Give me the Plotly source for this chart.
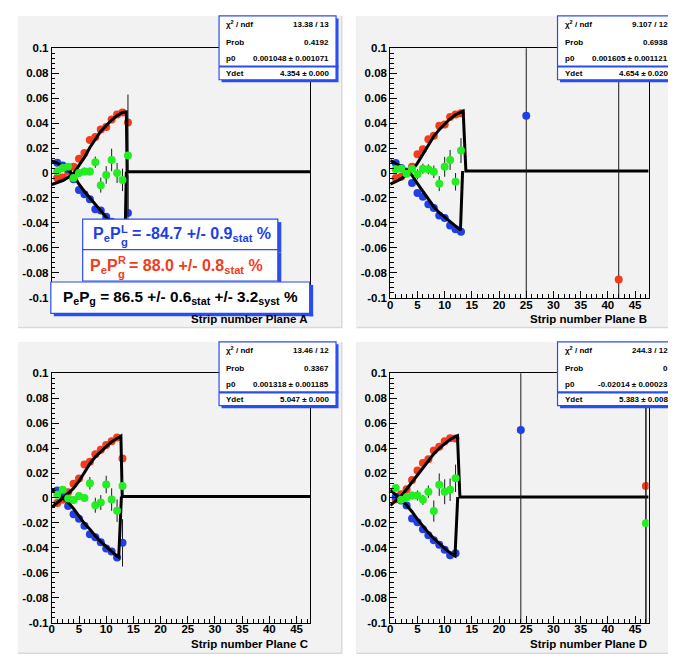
import plotly.graph_objects as go

W, H = 676, 664
OFF = 8  # the page body margin moves the figure; compensate
FW, FH = W - OFF, H - OFF
FONT = "Liberation Sans, Arial, Helvetica, sans-serif"

# ---------------- data ----------------
x_tickvals = [0, 5, 10, 15, 20, 25, 30, 35, 40, 45]
y_tickvals = [-0.1, -0.08, -0.06, -0.04, -0.02, 0, 0.02, 0.04, 0.06, 0.08, 0.1]
y_ticktext = ["-0.1", "-0.08", "-0.06", "-0.04", "-0.02", "0", "0.02", "0.04", "0.06", "0.08", "0.1"]
x_titles = ["Strip number Plane A", "Strip number Plane B", "Strip number Plane C", "Strip number Plane D"]

# Plane A
strips_A = [1, 2, 3, 4, 5, 6, 7, 8, 9, 10, 11, 12, 13, 14]
red_A = [-0.004, -0.0035, 0.001, 0.005, 0.0115, 0.016, 0.0265, 0.029, 0.035, 0.037, 0.043, 0.047, 0.0485, 0.0405]
red_A_err = [0.0015, 0.0015, 0.0015, 0.0015, 0.0015, 0.0015, 0.0015, 0.0015, 0.0015, 0.0015, 0.0015, 0.0015, 0.0015, 0.003]
blue_A = [0.0083, 0.006, 0.003, -0.005, -0.0136, -0.017, -0.021, -0.029, -0.030, -0.035, -0.039, -0.043, -0.046, -0.032]
blue_A_err = [0.0015, 0.0015, 0.0015, 0.0015, 0.0015, 0.0015, 0.0015, 0.0015, 0.0015, 0.0015, 0.0015, 0.0015, 0.0015, 0.030]
green_A = [0.0015, 0.004, 0.005, -0.004, 0.0, 0.0013, 0.0013, 0.0087, -0.0097, -0.0015, 0.0105, 0.0, -0.0055, 0.014]
green_A_err = [0.002, 0.002, 0.002, 0.002, 0.003, 0.003, 0.003, 0.0045, 0.006, 0.007, 0.009, 0.008, 0.009, 0.049]
redfit_A_x = [0, 1, 2, 3, 4, 5, 6, 7, 8, 9, 10, 11, 12, 13, 13.7, 13.85, 47.5]
redfit_A_y = [-0.0092, -0.0078, -0.006, -0.0035, -0.0005, 0.0062, 0.0125, 0.0205, 0.027, 0.0335, 0.038, 0.0425, 0.046, 0.0486, 0.049, 0.001, 0.001]
bluefit_A_x = [0, 1, 2, 3, 4, 5, 6, 7, 8, 9, 10, 11, 12, 13, 13.5, 13.7]
bluefit_A_y = [0.0097, 0.008, 0.0055, 0.0025, -0.002, -0.009, -0.0148, -0.0202, -0.0255, -0.0307, -0.0355, -0.0395, -0.043, -0.0455, -0.0465, 0.001]

# Plane B
strips_B = [1, 2, 3, 4, 5, 6, 7, 8, 9, 10, 11, 12, 13]
red_B = [-0.004, -0.003, 0.001, 0.005, 0.015, 0.019, 0.027, 0.030, 0.038, 0.039, 0.045, 0.047, 0.048]
blue_B = [0.008, 0.004, 0.001, -0.008, -0.016, -0.019, -0.025, -0.028, -0.034, -0.036, -0.042, -0.045, -0.047]
green_B = [0.003, 0.0035, -0.0005, 0.0035, -0.001, 0.0035, 0.003, 0.001, -0.0085, 0.005, 0.0105, -0.007, 0.018]
green_B_err = [0.002, 0.002, 0.002, 0.003, 0.004, 0.004, 0.004, 0.005, 0.006, 0.008, 0.008, 0.007, 0.010]
blue_B_out_x = [25]
blue_B_out_y = [0.0459]
red_B_out_x = [42]
red_B_out_y = [-0.0853]
redfit_B_x = [0, 1, 2, 3, 4, 5, 6, 7, 8, 9, 10, 11, 12, 13, 13.4, 13.9, 47.5]
redfit_B_y = [-0.0088, -0.007, -0.0045, -0.001, 0.0018, 0.008, 0.015, 0.023, 0.0295, 0.0348, 0.0393, 0.0435, 0.0468, 0.049, 0.0497, 0.0016, 0.0016]
bluefit_B_x = [0, 1, 2, 3, 4, 5, 6, 7, 8, 9, 10, 11, 12, 12.9, 13.3]
bluefit_B_y = [0.0100, 0.0078, 0.0052, 0.002, -0.0018, -0.0085, -0.015, -0.0215, -0.027, -0.0318, -0.0355, -0.039, -0.0425, -0.0458, 0.0016]

# Plane C
strips_C = [1, 2, 3, 4, 5, 6, 7, 8, 9, 10, 11, 12, 13]
red_C = [-0.004, -0.0015, 0.0045, 0.0115, 0.0157, 0.0268, 0.029, 0.035, 0.0386, 0.0425, 0.0455, 0.0485, 0.0316]
blue_C = [0.006, 0.003, -0.0065, -0.013, -0.0166, -0.0222, -0.029, -0.0315, -0.0355, -0.0405, -0.043, -0.0478, -0.036]
blue_C_err = [0.0015, 0.0015, 0.0015, 0.0015, 0.0015, 0.0015, 0.0015, 0.0015, 0.0015, 0.0015, 0.0015, 0.0015, 0.019]
green_C = [0.0025, 0.0066, -0.0005, -0.0017, 0.0015, 0.0, 0.0118, -0.0058, -0.0037, 0.0108, -0.0013, -0.0102, 0.0097]
green_C_err = [0.002, 0.002, 0.002, 0.002, 0.003, 0.003, 0.005, 0.006, 0.006, 0.007, 0.009, 0.009, 0.006]
redfit_C_x = [0, 1, 2, 3, 4, 5, 6, 7, 8, 9, 10, 11, 12, 12.7, 12.95, 47.5]
redfit_C_y = [-0.0075, -0.004, 0.0, 0.0035, 0.0078, 0.0135, 0.0205, 0.0275, 0.033, 0.0375, 0.0412, 0.0452, 0.0482, 0.0497, 0.0012, 0.0012]
bluefit_C_x = [0, 1, 2, 3, 4, 5, 6, 7, 8, 9, 10, 11, 12, 12.3, 12.8]
bluefit_C_y = [0.0068, 0.0035, 0.0, -0.0035, -0.0085, -0.0148, -0.0205, -0.025, -0.0305, -0.035, -0.039, -0.0432, -0.0468, -0.0475, 0.0012]

# Plane D
strips_D = [1, 2, 3, 4, 5, 6, 7, 8, 9, 10, 11, 12]
red_D = [-0.001, 0.003, 0.007, 0.0145, 0.022, 0.028, 0.031, 0.038, 0.041, 0.0455, 0.048, 0.0478]
blue_D = [0.001, -0.002, -0.006, -0.0165, -0.0195, -0.025, -0.0298, -0.034, -0.0375, -0.0415, -0.046, -0.0443]
green_D = [0.008, -0.0015, 0.0005, 0.002, 0.002, -0.0015, 0.005, -0.0105, 0.0107, 0.005, 0.0066, 0.0158]
green_D_err = [0.002, 0.002, 0.003, 0.003, 0.004, 0.004, 0.005, 0.0085, 0.009, 0.010, 0.009, 0.011]
blue_D_out_x = [24]
blue_D_out_y = [0.0546]
red_D_out_x = [47]
red_D_out_y = [0.0097]
green_D_out_x = [47]
green_D_out_y = [-0.0202]
redfit_D_x = [0, 1, 2, 3, 4, 5, 6, 7, 8, 9, 10, 11, 12, 12.35, 12.8, 47.5]
redfit_D_y = [-0.006, -0.0025, 0.0015, 0.007, 0.0128, 0.0188, 0.0247, 0.0305, 0.0355, 0.0398, 0.0438, 0.047, 0.0493, 0.0499, 0.0008, 0.0008]
bluefit_D_x = [0, 1, 2, 3, 4, 5, 6, 7, 8, 9, 10, 11, 11.9, 12.4]
bluefit_D_y = [0.0066, 0.0028, -0.0015, -0.0058, -0.011, -0.0172, -0.0227, -0.0278, -0.0325, -0.0368, -0.0405, -0.044, -0.0465, 0.0008]

# stats boxes
stats_labels = ["\u03c7<sup>2</sup> / ndf", "Prob", "p0", "Ydet"]
stats_A = ["13.38 / 13", "0.4192", "0.001048 \u00b1 0.001071", "4.354 \u00b1 0.000"]
stats_B = ["9.107 / 12", "0.6938", "0.001605 \u00b1 0.001121", "4.654 \u00b1 0.020"]
stats_C = ["13.46 / 12", "0.3367", "0.001318 \u00b1 0.001185", "5.047 \u00b1 0.000"]
stats_D = ["244.3 / 12", "0", "-0.02014 \u00b1 0.00023", "5.383 \u00b1 0.008"]

# result texts (P_e P_g^L / ^R are stacked: head, sub, sup, tail)
res_head = "P<sub>e</sub>P"
res_sub = "g"
res_L_sup = "L"
res_R_sup = "R"
res_L_tail = "= -84.7 +/- 0.9<sub>stat</sub> %"
res_R_tail = "= 88.0 +/- 0.8<sub>stat</sub> %"
res_tot = "P<sub>e</sub>P<sub>g</sub> = 86.5 +/- 0.6<sub>stat</sub> +/- 3.2<sub>syst</sub> %"

# ---------------- styling ----------------
RED = "#f23c1c"
BLUE = "#2040e6"
GREEN = "#22ee22"
ERRC = "#1a1a1a"
BOXBLUE = "#2a4df0"
PADC = "#f2f2f2"
PADEDGE = "#d9d9d9"
XR = [0, 47.5]
YR = [-0.1, 0.1]


def fx(p):
    return (p - OFF) / FW


def fy(p):
    return 1 - (p - OFF) / FH


# panel geometry in page pixels: (plot left, plot right, plot top, plot bottom, pad left, pad right, pad top, pad bottom)
geo = [
    (49, 308.5, 43, 297, 15, 341, 10, 328),
    (389, 648.5, 43, 297, 355, 676, 10, 328),
    (49, 308.5, 374, 628, 15, 341, 342, 660),
    (389, 648.5, 374, 628, 355, 676, 342, 660),
]

fig = go.Figure()
shapes = []
annotations = []


def ax_names(i):
    s = "" if i == 0 else str(i + 1)
    return "x" + s, "y" + s


def add_pts(i, x, y, err, color):
    xa, ya = ax_names(i)
    fig.add_trace(go.Scatter(
        x=x, y=y, mode="markers", xaxis=xa, yaxis=ya,
        marker=dict(color=color, size=8, line=dict(width=0)),
        error_y=dict(type="data", array=err, visible=True, thickness=1, width=0, color=ERRC),
        showlegend=False, hoverinfo="skip"))


def add_fit(i, x, y):
    xa, ya = ax_names(i)
    fig.add_trace(go.Scatter(
        x=x, y=y, mode="lines", xaxis=xa, yaxis=ya,
        line=dict(color="black", width=3),
        showlegend=False, hoverinfo="skip"))


small = 0.0015
big = 0.5

panels = [
    dict(strips=strips_A, red=red_A, red_err=red_A_err, blue=blue_A, blue_err=blue_A_err,
         green=green_A, green_err=green_A_err, rf=(redfit_A_x, redfit_A_y), bf=(bluefit_A_x, bluefit_A_y),
         out=[], stats=stats_A),
    dict(strips=strips_B, red=red_B, red_err=[small] * len(red_B), blue=blue_B, blue_err=[small] * len(blue_B),
         green=green_B, green_err=green_B_err, rf=(redfit_B_x, redfit_B_y), bf=(bluefit_B_x, bluefit_B_y),
         out=[(blue_B_out_x, blue_B_out_y, BLUE), (red_B_out_x, red_B_out_y, RED)], stats=stats_B),
    dict(strips=strips_C, red=red_C, red_err=[small] * len(red_C), blue=blue_C, blue_err=blue_C_err,
         green=green_C, green_err=green_C_err, rf=(redfit_C_x, redfit_C_y), bf=(bluefit_C_x, bluefit_C_y),
         out=[], stats=stats_C),
    dict(strips=strips_D, red=red_D, red_err=[small] * len(red_D), blue=blue_D, blue_err=[small] * len(blue_D),
         green=green_D, green_err=green_D_err, rf=(redfit_D_x, redfit_D_y), bf=(bluefit_D_x, bluefit_D_y),
         out=[(blue_D_out_x, blue_D_out_y, BLUE), (red_D_out_x, red_D_out_y, RED), (green_D_out_x, green_D_out_y, GREEN)],
         stats=stats_D),
]

layout_axes = {}
for i, p in enumerate(panels):
    L, R, T, B, pl, pr, pt, pb = geo[i]
    # pad background with bevel edge
    shapes.append(dict(type="rect", xref="paper", yref="paper", x0=fx(pl), x1=fx(pr), y0=fy(pb), y1=fy(pt),
                       fillcolor=PADEDGE, line=dict(width=0), layer="below"))
    shapes.append(dict(type="rect", xref="paper", yref="paper", x0=fx(pl), x1=fx(pr - 1.5), y0=fy(pb - 1.5), y1=fy(pt),
                       fillcolor=PADC, line=dict(width=0), layer="below"))

    add_pts(i, p["strips"], p["red"], p["red_err"], RED)
    add_pts(i, p["strips"], p["blue"], p["blue_err"], BLUE)
    add_fit(i, *p["rf"])
    add_fit(i, *p["bf"])
    add_pts(i, p["strips"], p["green"], p["green_err"], GREEN)
    for ox, oy, oc in p["out"]:
        add_pts(i, ox, oy, [big] * len(ox), oc)

    s = "" if i == 0 else str(i + 1)
    tickfont = dict(family=FONT, size=11.5, color="black", weight="bold")
    layout_axes["xaxis" + s] = dict(
        domain=[fx(L), fx(R)], range=XR, anchor="y" + s,
        tickmode="array", tickvals=x_tickvals, ticks="inside", ticklen=7, tickwidth=1, tickcolor="black",
        minor=dict(dtick=1, tick0=0, ticks="inside", ticklen=3.5, tickwidth=1, tickcolor="black", showgrid=False),
        showline=True, linecolor="black", linewidth=1, mirror=True,
        showticklabels=(i != 0),  # plane A labels lie under the result box
        ticklabelstandoff=-4,
        showgrid=False, zeroline=False, tickfont=tickfont)
    layout_axes["yaxis" + s] = dict(
        domain=[fy(B), fy(T)], range=YR, anchor="x" + s,
        tickmode="array", tickvals=y_tickvals, ticktext=y_ticktext, ticks="inside", ticklen=7, tickwidth=1,
        tickcolor="black",
        minor=dict(dtick=0.004, tick0=-0.1, ticks="inside", ticklen=3.5, tickwidth=1, tickcolor="black", showgrid=False),
        showline=True, linecolor="black", linewidth=1, mirror=True,
        showgrid=False, zeroline=False, tickfont=tickfont)

    # x axis title
    annotations.append(dict(xref="paper", yref="paper", x=fx(R), y=fy(B + 21.5), xanchor="right", yanchor="middle",
                            text=x_titles[i], showarrow=False,
                            font=dict(family=FONT, size=11.5, color="black", weight="bold")))

    # stats box
    bl = R - 91.5
    br = R + 26
    bt = pt
    shapes.append(dict(type="rect", xref="paper", yref="paper", x0=fx(bl + 2.5), x1=fx(br + 2.5), y0=fy(bt + 65 + 2.5),
                       y1=fy(bt + 2.5), fillcolor=BOXBLUE, line=dict(width=0), layer="above"))
    shapes.append(dict(type="rect", xref="paper", yref="paper", x0=fx(bl), x1=fx(br), y0=fy(bt + 65), y1=fy(bt),
                       fillcolor="white", line=dict(color=BOXBLUE, width=1.2), layer="above"))
    shapes.append(dict(type="line", xref="paper", yref="paper", x0=fx(bl), x1=fx(br + 2.5), y0=fy(bt + 51.5),
                       y1=fy(bt + 51.5), line=dict(color=BOXBLUE, width=2.2), layer="above"))
    rows_y = [8.5, 27, 43.5, 58.5]
    for lab, val, ry in zip(stats_labels, p["stats"], rows_y):
        annotations.append(dict(xref="paper", yref="paper", x=fx(bl + 5), y=fy(bt + ry), xanchor="left",
                                yanchor="middle", text=lab, showarrow=False,
                                font=dict(family=FONT, size=8, color="black", weight="bold")))
        annotations.append(dict(xref="paper", yref="paper", x=fx(br - 5), y=fy(bt + ry), xanchor="right",
                                yanchor="middle", text=val, showarrow=False,
                                font=dict(family=FONT, size=8, color="black", weight="bold")))

# result boxes on plane A
boxes = [
    (80, 276, 217, 248, False),
    (80, 276, 248, 280, False),
    (48, 308, 281, 313, True),
]
for x0, x1, y0, y1, bottom_shadow in boxes:
    shapes.append(dict(type="rect", xref="paper", yref="paper", x0=fx(x1), x1=fx(x1 + 3.5), y0=fy(y1 + 3),
                       y1=fy(y0 + 3), fillcolor=BOXBLUE, line=dict(width=0), layer="above"))
    if bottom_shadow:
        shapes.append(dict(type="rect", xref="paper", yref="paper", x0=fx(x0 + 3), x1=fx(x1 + 3.5), y0=fy(y1 + 3),
                           y1=fy(y1), fillcolor=BOXBLUE, line=dict(width=0), layer="above"))
    shapes.append(dict(type="rect", xref="paper", yref="paper", x0=fx(x0), x1=fx(x1), y0=fy(y1), y1=fy(y0),
                       fillcolor="white", line=dict(color=BOXBLUE, width=1.2), layer="above"))


def txt(x, y, text, size, color, anchor="left"):
    return dict(xref="paper", yref="paper", x=fx(x), y=fy(y), xanchor=anchor, yanchor="middle", text=text,
                showarrow=False, borderpad=0,
                font=dict(family=FONT, size=size, weight="bold", color=color))


# widths in Liberation Sans Bold: "P" + sub "e" + "P" at 16px ~ 27.6 px, sub "g" ~ 6.9 px, space ~ 4.5 px
for (x0, yc, sup, tail, col) in [(89, 233, res_L_sup, res_L_tail, BLUE), (86, 265, res_R_sup, res_R_tail, RED)]:
    annotations.append(txt(x0, yc, res_head, 16, col))
    annotations.append(txt(x0 + 28, yc - 6.5, sup, 11, col))
    annotations.append(txt(x0 + 28, yc + 7.5, res_sub, 11.2, col))
    annotations.append(txt(x0 + 28 + 7 + 4.5, yc, tail, 16, col))
annotations.append(txt(59, 297, res_tot, 15.3, "black"))

fig.update_layout(
    width=FW, height=FH, autosize=False,
    margin=dict(l=0, r=0, t=0, b=0),
    paper_bgcolor="white", plot_bgcolor="rgba(0,0,0,0)",
    showlegend=False,
    shapes=shapes, annotations=annotations,
    **layout_axes,
)

fig.write_html("out.html")
